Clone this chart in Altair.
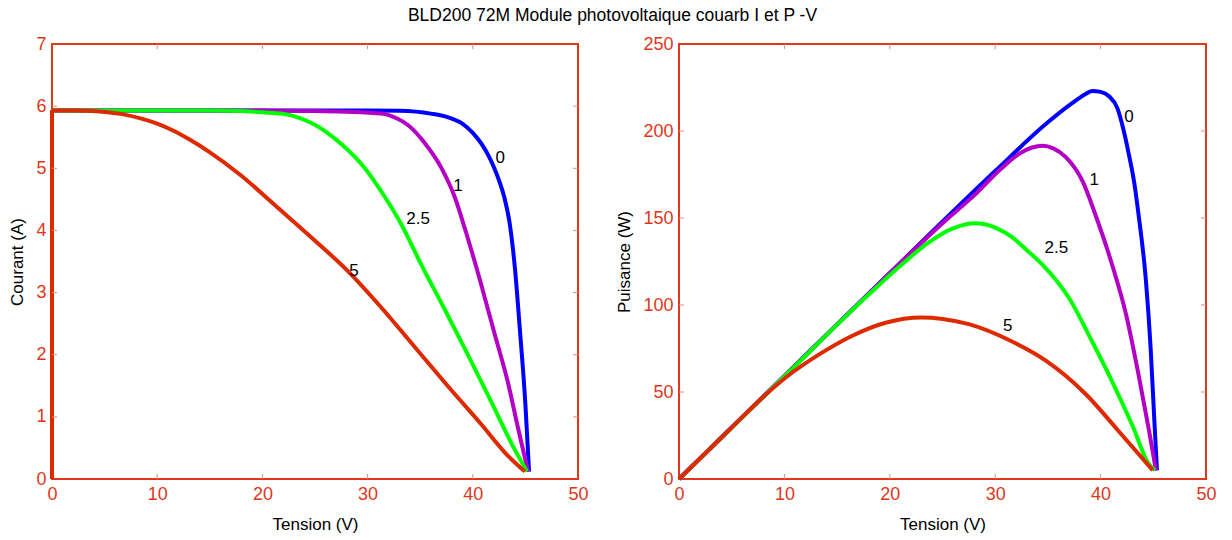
import altair as alt
import pandas as pd

FONT = "Liberation Sans"
AXC = "#e0361a"
TICKC = "#ee8a70"

series = ["0", "1", "2.5", "5"]
colors = ["#0000ff", "#b400c4", "#00ff00", "#dd2a00"]

# ---- I-V curves (Tension V, Courant A) ----
iv_v_0 = [0, 0, 10, 20, 30, 33, 36, 38, 39, 40, 40.8, 41.5, 42, 42.5, 43, 43.5, 44.0, 44.5, 45.0, 45.35]
iv_i_0 = [0, 5.93, 5.93, 5.93, 5.93, 5.925, 5.88, 5.80, 5.72, 5.57, 5.40, 5.20, 5.02, 4.80, 4.53, 4.12, 3.40, 2.35, 1.20, 0.12]
iv_v_1 = [0, 0, 10, 20, 25, 28, 31.3, 32.8, 33.8, 35.5, 37.0, 38.3, 39.3, 40.7, 42.0, 43.3, 44.3, 45.25]
iv_i_1 = [0, 5.93, 5.93, 5.93, 5.92, 5.91, 5.88, 5.80, 5.70, 5.39, 5.01, 4.53, 4.0, 3.19, 2.38, 1.58, 0.82, 0.12]
iv_v_25 = [0, 0, 10, 15, 18, 20, 21.8, 23.7, 24.9, 27.5, 29.7, 31.6, 33.2, 35.1, 37.3, 39.5, 41.7, 43.9, 45.15]
iv_i_25 = [0, 5.93, 5.93, 5.93, 5.92, 5.90, 5.88, 5.80, 5.71, 5.39, 5.01, 4.55, 4.10, 3.45, 2.74, 2.01, 1.26, 0.50, 0.12]
iv_v_5 = [0, 0, 2.5, 5.3, 7.0, 8.5, 10.0, 11.6, 13.2, 14.8, 18.0, 21.1, 24.9, 28.1, 31.3, 34.4, 37.6, 40.8, 43.3, 44.95]
iv_i_5 = [0, 5.93, 5.93, 5.90, 5.86, 5.80, 5.72, 5.60, 5.45, 5.28, 4.88, 4.42, 3.85, 3.35, 2.76, 2.14, 1.50, 0.88, 0.38, 0.12]

# ---- P-V curves (Tension V, Puissance W) ----
pv_v_0 = [0, 10, 20, 30, 34.8, 37.3, 38.5, 39.2, 40.0, 40.8, 41.6, 42.2, 42.7, 43.2, 43.6, 44.3, 44.75, 45.07, 45.35]
pv_p_0 = [0, 59.2, 118.4, 177, 204, 216, 221, 223, 222.5, 220, 213, 200, 186, 170, 152, 114, 75, 37, 5]
pv_v_1 = [0, 10, 20, 25, 28, 30.5, 32.3, 33.5, 34.5, 35.5, 36.7, 38.3, 39.5, 41.1, 42.4, 43.6, 44.6, 45.25]
pv_p_1 = [0, 59.2, 118.2, 147, 163, 178, 187, 190.5, 191.5, 190, 185, 171, 152, 123, 95, 60, 27.6, 5]
pv_v_25 = [0, 10, 18, 21, 23.7, 26, 28.1, 30, 31.6, 33, 34.5, 37.0, 39.2, 41.1, 43.0, 44.6, 45.15]
pv_p_25 = [0, 59, 106, 122.5, 136, 144, 147, 144.5, 139, 131.5, 123, 104, 79, 56, 31, 8.4, 5]
pv_v_5 = [0, 5, 7.9, 10.1, 13.3, 16.4, 19.6, 23.0, 25, 27.5, 31.6, 34.8, 38.6, 41.7, 44.95]
pv_p_5 = [0, 29.6, 46.7, 58.2, 71.6, 82.2, 89.8, 92.8, 92, 89, 79, 68, 48.7, 27.6, 5]

# curve labels
lab_iv_v = [42.6, 38.6, 34.8, 28.7]
lab_iv_i = [5.17, 4.72, 4.18, 3.35]
lab_pv_v = [42.7, 39.4, 35.8, 31.2]
lab_pv_p = [208, 172, 133, 88]

x_ticks = [0, 10, 20, 30, 40, 50]
i_ticks = [0, 1, 2, 3, 4, 5, 6, 7]
p_ticks = [0, 50, 100, 150, 200, 250]

W1, W2, H = 526, 527, 435


def long_df(vs_list, ys_list, yname):
    rows = []
    for s, vs, ys in zip(series, vs_list, ys_list):
        for k, (v, y) in enumerate(zip(vs, ys)):
            rows.append({"curve": s, "V": v, yname: y, "idx": k})
    return pd.DataFrame(rows)


iv_df = long_df([iv_v_0, iv_v_1, iv_v_25, iv_v_5], [iv_i_0, iv_i_1, iv_i_25, iv_i_5], "I")
pv_df = long_df([pv_v_0, pv_v_1, pv_v_25, pv_v_5], [pv_p_0, pv_p_1, pv_p_25, pv_p_5], "P")


def panel(df, yname, ydom, yticks, ytitle, labv, laby, width, start):
    xs = alt.Scale(domain=[0, 50], nice=False, zero=False)
    ys = alt.Scale(domain=ydom, nice=False, zero=False)
    xa = alt.Axis(values=x_ticks, grid=False, ticks=False, domain=False, labelPadding=6,
                  titlePadding=13, format="d", labelFlush=False)
    ya = alt.Axis(values=yticks, grid=False, ticks=False, domain=False, labelPadding=6,
                  titlePadding=9, format="d", labelFlush=False)

    def X(f):
        return alt.X(f, type="quantitative", scale=xs, axis=xa, title="Tension (V)")

    def Y(f):
        return alt.Y(f, type="quantitative", scale=ys, axis=ya, title=ytitle)

    layers = []
    for s, c in zip(series, colors):
        if start > 0:
            layers.append(
                alt.Chart(df).transform_filter((alt.datum.curve == s) & (alt.datum.idx <= start))
                .mark_line(strokeWidth=4, color=c)
                .encode(x=X("V"), y=Y(yname), order=alt.Order("idx:Q"))
            )
        layers.append(
            alt.Chart(df).transform_filter((alt.datum.curve == s) & (alt.datum.idx >= start))
            .mark_line(strokeWidth=4, color=c, interpolate="monotone")
            .encode(x=X("V"), y=Y(yname), order=alt.Order("idx:Q"))
        )
    lab = pd.DataFrame({"V": labv, "Y": laby, "t": series})
    layers.append(
        alt.Chart(lab).mark_text(font=FONT, fontSize=17, color="black")
        .encode(x=X("V"), y=Y("Y"), text="t:N")
    )
    xt = pd.DataFrame({"t": x_ticks[1:-1]})
    yt = pd.DataFrame({"t": yticks[1:-1]})
    layers.append(alt.Chart(xt).mark_rule(color=TICKC, strokeWidth=1)
                  .encode(x=X("t"), y=alt.value(H), y2=alt.value(H - 5)))
    layers.append(alt.Chart(xt).mark_rule(color=TICKC, strokeWidth=1)
                  .encode(x=X("t"), y=alt.value(0), y2=alt.value(5)))
    layers.append(alt.Chart(yt).mark_rule(color=TICKC, strokeWidth=1)
                  .encode(y=Y("t"), x=alt.value(0), x2=alt.value(5)))
    layers.append(alt.Chart(yt).mark_rule(color=TICKC, strokeWidth=1)
                  .encode(y=Y("t"), x=alt.value(width - 5), x2=alt.value(width)))
    return alt.layer(*layers).properties(width=width, height=H)


left = panel(iv_df, "I", [0, 7], i_ticks, "Courant (A)", lab_iv_v, lab_iv_i, W1, 1)
right = panel(pv_df, "P", [0, 250], p_ticks, "Puisance (W)", lab_pv_v, lab_pv_p, W2, 0)

chart = (
    alt.hconcat(left, right, spacing=24)
    .properties(
        title=alt.TitleParams("BLD200 72M Module photovoltaique couarb I et P -V",
                              font=FONT, fontSize=17.5, fontWeight="normal", color="black",
                              anchor="middle", offset=10),
        padding={"left": 7, "top": 6, "right": 5, "bottom": 5},
        background="white",
    )
    .configure_view(stroke=AXC, strokeWidth=2)
    .configure_axis(labelFont=FONT, labelFontSize=18, labelColor=AXC, titleFont=FONT,
                    titleFontSize=17, titleFontWeight="normal", titleColor="black")
)

chart.save("out.html", embed_options={"renderer": "svg", "actions": False})
